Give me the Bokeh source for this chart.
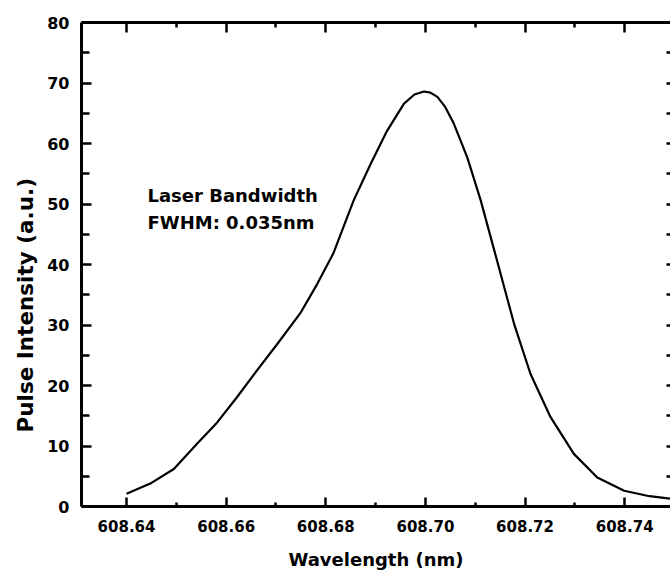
from bokeh.plotting import figure
from bokeh.models import (LinearAxis, FixedTicker, NumeralTickFormatter, Range1d,
                          Label, Title, ColumnDataSource)
from bokeh.embed import file_html
from bokeh.resources import INLINE

# ---- data ----
wavelength = [608.6400, 608.6450, 608.6495, 608.6542, 608.6582, 608.6622, 608.6662,
              608.6703, 608.6750, 608.6783, 608.6815, 608.6835, 608.6856, 608.6890,
              608.6923, 608.6957, 608.6978, 608.6997, 608.7010, 608.7024, 608.7040,
              608.7057, 608.7084, 608.7111, 608.7140, 608.7178, 608.7211, 608.7251,
              608.7298, 608.7345, 608.7399, 608.7450, 608.7492]
intensity = [2.1, 3.9, 6.2, 10.4, 13.9, 18.1, 22.5,
             26.9, 32.1, 36.8, 41.8, 46.1, 50.6, 56.6,
             62.1, 66.6, 68.1, 68.6, 68.4, 67.7, 66.0,
             63.3, 57.7, 50.6, 41.8, 30.2, 21.9, 14.8,
             8.7, 4.8, 2.6, 1.7, 1.3]

x_ticks = [608.64, 608.66, 608.68, 608.70, 608.72, 608.74]
x_minor = [608.63, 608.65, 608.67, 608.69, 608.71, 608.73]
y_ticks = [0, 10, 20, 30, 40, 50, 60, 70, 80]
y_minor = [5, 15, 25, 35, 45, 55, 65, 75]

x_label = "Wavelength (nm)"
y_label = "Pulse Intensity (a.u.)"
note_lines = ["Laser Bandwidth", "FWHM: 0.035nm"]

X_START, X_END = 608.63096, 608.7492
Y_START, Y_END = 0, 80

FONT = "DejaVu Sans"

p = figure(width=670, height=573, output_backend="svg", toolbar_location=None,
           x_range=Range1d(X_START, X_END), y_range=Range1d(Y_START, Y_END),
           x_axis_location=None, y_axis_location=None,
           min_border_left=81, min_border_right=0, min_border_top=22,
           min_border_bottom=67)
p.outline_line_color = None
p.xgrid.visible = False
p.ygrid.visible = False
p.background_fill_color = "white"
p.border_fill_color = "white"

src = ColumnDataSource(dict(x=wavelength, y=intensity))
p.line("x", "y", source=src, line_color="black", line_width=2.2)


def style(ax):
    ax.axis_line_width = 3
    ax.axis_line_color = "black"
    ax.major_tick_line_width = 2.5
    ax.minor_tick_line_width = 2.5
    ax.major_tick_out = 0
    ax.minor_tick_out = 0
    ax.major_tick_line_color = "black"
    ax.minor_tick_line_color = "black"
    ax.major_label_text_font = FONT
    ax.major_label_text_font_style = "bold"
    ax.major_label_text_color = "black"


def bare(ax):
    # axis without labels: only minor ticks are drawn
    style(ax)
    ax.major_label_standoff = 0
    ax.axis_label_standoff = 0


xb = LinearAxis(ticker=FixedTicker(ticks=x_ticks, minor_ticks=x_minor),
                formatter=NumeralTickFormatter(format="0.00"))
style(xb)
xb.major_tick_in = 9
xb.minor_tick_in = 4
xb.major_label_standoff = 13
xb.major_label_text_font_size = "15px"
xb.axis_label = x_label
xb.axis_label_text_font = FONT
xb.axis_label_text_font_style = "bold"
xb.axis_label_text_font_size = "18px"
xb.axis_label_text_color = "black"
xb.axis_label_standoff = 14
p.add_layout(xb, "below")

# top frame line with long ticks at the major positions
xt = LinearAxis(ticker=FixedTicker(ticks=[], minor_ticks=x_ticks))
bare(xt)
xt.minor_tick_in = 10
p.add_layout(xt, "above")

# short ticks at the minor positions on the top edge
xt2 = LinearAxis(ticker=FixedTicker(ticks=[], minor_ticks=x_minor))
bare(xt2)
xt2.axis_line_color = None
xt2.minor_tick_in = 5
p.add_layout(xt2, "above")

yl = LinearAxis(ticker=FixedTicker(ticks=y_ticks, minor_ticks=y_minor))
style(yl)
yl.major_tick_in = 10
yl.minor_tick_in = 8
yl.major_label_standoff = 12
yl.major_label_text_font_size = "16px"
p.add_layout(yl, "left")

yr = LinearAxis(ticker=FixedTicker(ticks=[], minor_ticks=y_ticks + y_minor))
bare(yr)
yr.axis_line_color = None
yr.minor_tick_in = 4
p.add_layout(yr, "right")

# y axis title (rotated), drawn as a side title so it can sit off-centre
p.add_layout(Title(text=y_label, align="left", offset=74, standoff=14,
                   text_font=FONT, text_font_style="bold",
                   text_font_size="21.5px", text_color="black"), "left")

# annotation
px_per_x = 589 / (X_END - X_START)
px_per_y = 484 / (Y_END - Y_START)
for i, line in enumerate(note_lines):
    p.add_layout(Label(x=X_START + 66 / px_per_x,
                       y=Y_START + (311 - 27 * i) / px_per_y,
                       text=line, text_align="left", text_baseline="middle",
                       text_font=FONT, text_font_style="bold",
                       text_font_size="18px", text_color="black"))

open("out.html", "w").write(file_html(p, INLINE))
